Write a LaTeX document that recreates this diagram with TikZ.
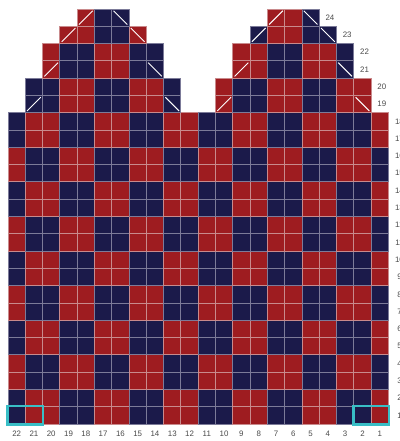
\documentclass[tikz,border=0pt]{standalone}
\usepackage{fontspec}
\setmainfont{Liberation Sans}
\usepackage{tikz}
\usetikzlibrary{positioning, calc}

\definecolor{chartnavy}{HTML}{1B1A4A}
\definecolor{chartred}{HTML}{9E1C20}
\definecolor{navyline}{HTML}{7C7B99}
\definecolor{redline}{HTML}{C98A8C}
\definecolor{markteal}{HTML}{38BEC6}
\definecolor{labelgray}{HTML}{4A4A4A}

\newcommand{\chartcell}[2]{%
  \pgfmathtruncatemacro{\k}{mod(floor(#1/2)+floor((#2-1)/2),2)}%
  \ifodd\k
    \node[redcell] (s#2-#1) at (#1-0.5,#2-0.5) {};
  \else
    \node[navycell] (s#2-#1) at (#1-0.5,#2-0.5) {};
  \fi}

\begin{document}
\begin{tikzpicture}[
    x=0.5cm, y=0.5cm,
    cell/.style={rectangle, minimum size=0.5cm, inner sep=0pt, line width=0.7pt},
    navycell/.style={cell, fill=chartnavy, draw=navyline},
    redcell/.style={cell, fill=chartred, draw=redline},
    numlabel/.style={font=\fontsize{6.5}{7}\selectfont, text=labelgray, inner sep=0pt},
    decline/.style={draw=white, line width=0.8pt, shorten <=0.9mm, shorten >=0.9mm},
    hilite/.style={draw=markteal, line width=2pt}
  ]
  \useasboundingbox (-0.463,-0.984) rectangle (22.637,24.521);

  % full-width rows
  \foreach \r in {1,...,18}{
    \foreach \p in {1,...,22}{\chartcell{\p}{\r}}
    \node[numlabel] (r\r) at (22.64,\r-0.5) {\r};
  }

  % the two peaks
  \foreach \r/\w in {19/2,20/2,21/3,22/3,23/4,24/5}{
    \pgfmathtruncatemacro{\a}{12-\w}
    \pgfmathtruncatemacro{\b}{11+\w}
    \pgfmathtruncatemacro{\e}{23-\w}
    \foreach \p in {\w,...,\a}{\chartcell{\p}{\r}}
    \foreach \p in {\b,...,\e}{\chartcell{\p}{\r}}
    \node[numlabel] (r\r) at (\e+0.62,\r-0.5) {\r};
  }

  % decreases
  \foreach \r/\w in {19/2,21/3,23/4,24/5}{
    \pgfmathtruncatemacro{\a}{12-\w}
    \pgfmathtruncatemacro{\b}{11+\w}
    \pgfmathtruncatemacro{\e}{23-\w}
    \draw[decline] (s\r-\w.south west) -- (s\r-\w.north east);
    \draw[decline] (s\r-\a.north west) -- (s\r-\a.south east);
    \draw[decline] (s\r-\b.south west) -- (s\r-\b.north east);
    \draw[decline] (s\r-\e.north west) -- (s\r-\e.south east);
  }

  % stitch numbers
  \foreach \p in {1,...,22}{
    \pgfmathtruncatemacro{\c}{23-\p}
    \node[numlabel] (c\c) at (\p-0.5,-0.58) {\c};
  }

  \draw[hilite] (s1-1.south west) rectangle (s1-2.north east);
  \draw[hilite] (s1-21.south west) rectangle (s1-22.north east);
\end{tikzpicture}
\end{document}
